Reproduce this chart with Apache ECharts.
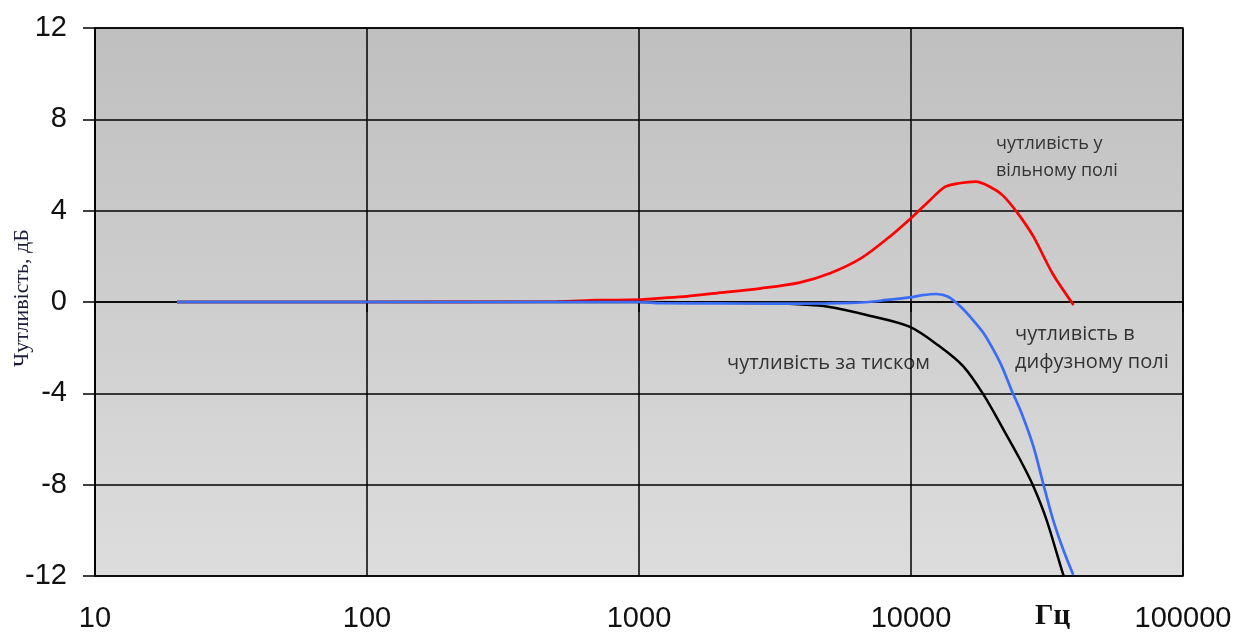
<!DOCTYPE html>
<html>
<head>
<meta charset="utf-8">
<script src="https://cdn.jsdelivr.net/npm/echarts@6/dist/echarts.min.js"></script>
<style>
  html, body { margin: 0; padding: 0; background: #ffffff; }
  #chart { width: 1234px; height: 632px; }
</style>
</head>
<body>
<div id="chart"></div>
<script>
// Frequency response of a measurement microphone (dB vs Hz)
const xTickLabels = ['10', '100', '1000', '10000', '100000'];
const yTickLabels = ['-12', '-8', '-4', '0', '4', '8', '12'];

// free-field sensitivity
const freeFreq = [20, 100, 500, 700, 1000, 1170, 1500, 1900, 2810, 3890, 5040, 6540, 8210, 9970, 11740, 13370, 15000, 17300, 19500, 21700, 24700, 28200, 33100, 39600];
const freeVal  = [0, 0, 0.02, 0.08, 0.1, 0.16, 0.25, 0.38, 0.6, 0.85, 1.26, 1.91, 2.79, 3.66, 4.46, 5.05, 5.2, 5.27, 5.05, 4.68, 3.88, 2.86, 1.26, -0.13];

// pressure sensitivity
const pressFreq = [20, 1000, 2000, 3000, 4100, 4900, 6870, 9870, 12800, 15600, 18500, 21900, 25200, 28200, 31500, 36300, 36600];
const pressVal  = [0, 0, -0.03, -0.06, -0.12, -0.2, -0.57, -1.08, -1.96, -2.83, -4.07, -5.6, -6.91, -8.08, -9.54, -11.95, -12];

// diffuse-field sensitivity
const diffFreq = [20, 1000, 1200, 2000, 3000, 4900, 6000, 7000, 8130, 9900, 11000, 12400, 13700, 15200, 16900, 18500, 20100, 21600, 23400, 25500, 28200, 30600, 33300, 36300, 39500];
const diffVal  = [0, 0, -0.05, -0.06, -0.07, -0.06, -0.04, 0, 0.09, 0.2, 0.3, 0.35, 0.23, -0.2, -0.79, -1.37, -2.1, -2.83, -3.85, -4.87, -6.33, -7.94, -9.54, -10.85, -11.95];

const yAxisTitle = 'Чутливість, дБ';
const xAxisUnit = 'Гц';

const pairs = (xs, ys) => xs.map((x, i) => [x, ys[i]]);

const chart = echarts.init(document.getElementById('chart'));
const upperFont = { fontFamily: 'Open Sans', fontSize: 18, fill: '#333333' };
const lowerFont = { fontFamily: 'Open Sans', fontSize: 20, fill: '#333333' };

chart.setOption({
  animation: false,
  backgroundColor: '#ffffff',
  grid: {
    left: 95, right: 51, top: 28, bottom: 56,
    outerBoundsMode: 'none',
    show: true,
    borderColor: '#000000',
    borderWidth: 1.5,
    backgroundColor: new echarts.graphic.LinearGradient(0, 0, 0, 1, [
      { offset: 0, color: '#bfbfbf' },
      { offset: 1, color: '#dddddd' }
    ])
  },
  xAxis: {
    type: 'log',
    logBase: 10,
    min: 10,
    max: 100000,
    axisLine: { show: true, lineStyle: { color: '#000', width: 1.5 } },
    axisTick: { show: true, length: 10, lineStyle: { color: '#000', width: 1.5 } },
    minorTick: { show: false },
    splitLine: { show: true, lineStyle: { color: '#000', width: 1.5 } },
    axisLabel: {
      margin: 28,
      fontFamily: 'Liberation Sans',
      fontSize: 29,
      color: '#111111',
      formatter: v => xTickLabels[Math.round(Math.log10(v)) - 1]
    }
  },
  yAxis: {
    type: 'value',
    min: -12,
    max: 12,
    interval: 4,
    axisLine: { show: true, lineStyle: { color: '#000', width: 1.5 } },
    axisTick: { show: true, length: 12, lineStyle: { color: '#000', width: 1.5 } },
    splitLine: { show: true, lineStyle: { color: '#000', width: 1.5 } },
    axisLabel: {
      margin: 28,
      fontFamily: 'Liberation Sans',
      fontSize: 29,
      color: '#111111',
      formatter: v => yTickLabels[Math.round((v + 12) / 4)]
    }
  },
  series: [
    {
      type: 'line', name: 'free', data: pairs(freeFreq, freeVal),
      showSymbol: false, smooth: 0.3,
      lineStyle: { color: '#ff0000', width: 2.7 }
    },
    {
      type: 'line', name: 'pressure', data: pairs(pressFreq, pressVal),
      showSymbol: false, smooth: 0.3,
      lineStyle: { color: '#000000', width: 2.5 }
    },
    {
      type: 'line', name: 'diffuse', data: pairs(diffFreq, diffVal),
      showSymbol: false, smooth: 0.3,
      lineStyle: { color: '#3b6cf5', width: 2.7 }
    }
  ],
  graphic: [
    {
      type: 'text', x: 22, y: 298, rotation: Math.PI / 2,
      style: { text: yAxisTitle, fontFamily: 'Liberation Serif', fontSize: 22, fill: '#1c1c3a', align: 'center', verticalAlign: 'middle' }
    },
    { type: 'text', left: 996, top: 135, style: Object.assign({ text: 'чутливість у' }, upperFont) },
    { type: 'text', left: 996, top: 162, style: Object.assign({ text: 'вільному полі' }, upperFont) },
    { type: 'text', left: 727, top: 353, style: Object.assign({ text: 'чутливість за тиском' }, lowerFont) },
    { type: 'text', left: 1015, top: 324, style: Object.assign({ text: 'чутливість в' }, lowerFont) },
    { type: 'text', left: 1015, top: 352, style: Object.assign({ text: 'дифузному полі' }, lowerFont) },
    { type: 'text', left: 1035, top: 602, style: { text: xAxisUnit, fontFamily: 'Liberation Serif', fontWeight: 'bold', fontSize: 29, fill: '#111111' } }
  ]
});
</script>
</body>
</html>
